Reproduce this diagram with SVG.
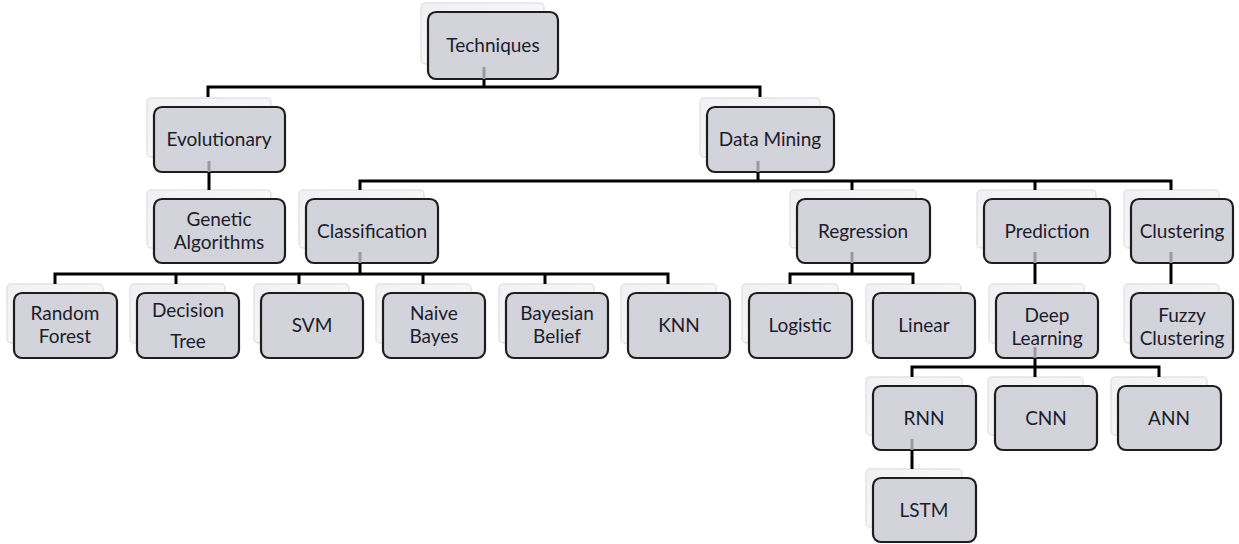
<svg xmlns="http://www.w3.org/2000/svg" width="1239" height="544" viewBox="0 0 1239 544">
<defs>
<linearGradient id="sh" x1="0" y1="0" x2="1" y2="1">
<stop offset="0" stop-color="#f1f1f3"/>
<stop offset="1" stop-color="#fbfbfc"/>
</linearGradient>
</defs>
<style>
.sh{fill:url(#sh);stroke:#e3e3e6;stroke-width:1.5}
.bx{fill:#d3d3dc;stroke:#1e1e1e;stroke-width:2.2}
.t{font-family:Lato,"Liberation Sans",sans-serif;font-size:19px;fill:#1c1c2a;text-anchor:middle}
.c{fill:none;stroke:#000;stroke-width:3}
.s{fill:none;stroke:#9a9aa2;stroke-width:3}
</style>
<rect width="1239" height="544" fill="#fff"/>
<g id="n-techniques"><rect class="sh" x="421" y="3" width="123" height="61" rx="4"/><rect class="bx" x="428" y="12" width="130" height="67" rx="8"/><text class="t" x="493" y="52">Techniques</text></g>
<g id="n-evolutionary"><rect class="sh" x="147" y="98" width="124" height="59" rx="4"/><rect class="bx" x="154" y="107" width="131" height="65" rx="8"/><text class="t" x="219" y="146">Evolutionary</text></g>
<g id="n-datamining"><rect class="sh" x="700" y="98" width="120" height="59" rx="4"/><rect class="bx" x="707" y="107" width="127" height="65" rx="8"/><text class="t" x="770" y="146">Data Mining</text></g>
<g id="n-genetic"><rect class="sh" x="147" y="190" width="124" height="58" rx="4"/><rect class="bx" x="154" y="199" width="131" height="64" rx="8"/><text class="t" x="219" y="226">Genetic</text><text class="t" x="219" y="249">Algorithms</text></g>
<g id="n-classification"><rect class="sh" x="299" y="190" width="125" height="58" rx="4"/><rect class="bx" x="306" y="199" width="132" height="64" rx="8"/><text class="t" x="372" y="238">Classification</text></g>
<g id="n-regression"><rect class="sh" x="790" y="190" width="126" height="58" rx="4"/><rect class="bx" x="797" y="199" width="133" height="64" rx="8"/><text class="t" x="863" y="238">Regression</text></g>
<g id="n-prediction"><rect class="sh" x="977" y="190" width="119" height="58" rx="4"/><rect class="bx" x="984" y="199" width="126" height="64" rx="8"/><text class="t" x="1047" y="238">Prediction</text></g>
<g id="n-clustering"><rect class="sh" x="1124" y="190" width="95" height="58" rx="4"/><rect class="bx" x="1131" y="199" width="102" height="64" rx="8"/><text class="t" x="1182" y="238">Clustering</text></g>
<g id="n-randomforest"><rect class="sh" x="7" y="284" width="96" height="59" rx="4"/><rect class="bx" x="14" y="293" width="103" height="65" rx="8"/><text class="t" x="65" y="320">Random</text><text class="t" x="65" y="343">Forest</text></g>
<g id="n-decisiontree"><rect class="sh" x="130" y="284" width="95" height="59" rx="4"/><rect class="bx" x="137" y="293" width="102" height="65" rx="8"/><text class="t" x="188" y="317">Decision</text><text class="t" x="188" y="348">Tree</text></g>
<g id="n-svm"><rect class="sh" x="254" y="284" width="95" height="59" rx="4"/><rect class="bx" x="261" y="293" width="102" height="65" rx="8"/><text class="t" x="312" y="332">SVM</text></g>
<g id="n-naivebayes"><rect class="sh" x="376" y="284" width="95" height="59" rx="4"/><rect class="bx" x="383" y="293" width="102" height="65" rx="8"/><text class="t" x="434" y="320">Naive</text><text class="t" x="434" y="343">Bayes</text></g>
<g id="n-bayesianbelief"><rect class="sh" x="499" y="284" width="95" height="59" rx="4"/><rect class="bx" x="506" y="293" width="102" height="65" rx="8"/><text class="t" x="557" y="320">Bayesian</text><text class="t" x="557" y="343">Belief</text></g>
<g id="n-knn"><rect class="sh" x="621" y="284" width="95" height="59" rx="4"/><rect class="bx" x="628" y="293" width="102" height="65" rx="8"/><text class="t" x="679" y="332">KNN</text></g>
<g id="n-logistic"><rect class="sh" x="742" y="284" width="96" height="59" rx="4"/><rect class="bx" x="749" y="293" width="103" height="65" rx="8"/><text class="t" x="800" y="332">Logistic</text></g>
<g id="n-linear"><rect class="sh" x="866" y="284" width="95" height="59" rx="4"/><rect class="bx" x="873" y="293" width="102" height="65" rx="8"/><text class="t" x="924" y="332">Linear</text></g>
<g id="n-deeplearning"><rect class="sh" x="989" y="284" width="95" height="59" rx="4"/><rect class="bx" x="996" y="293" width="102" height="65" rx="8"/><text class="t" x="1047" y="322">Deep</text><text class="t" x="1047" y="345">Learning</text></g>
<g id="n-fuzzyclustering"><rect class="sh" x="1124" y="284" width="95" height="59" rx="4"/><rect class="bx" x="1131" y="293" width="102" height="65" rx="8"/><text class="t" x="1182" y="322">Fuzzy</text><text class="t" x="1182" y="345">Clustering</text></g>
<g id="n-rnn"><rect class="sh" x="866" y="377" width="96" height="58" rx="4"/><rect class="bx" x="873" y="386" width="103" height="64" rx="8"/><text class="t" x="924" y="425">RNN</text></g>
<g id="n-cnn"><rect class="sh" x="988" y="377" width="95" height="58" rx="4"/><rect class="bx" x="995" y="386" width="102" height="64" rx="8"/><text class="t" x="1046" y="425">CNN</text></g>
<g id="n-ann"><rect class="sh" x="1111" y="377" width="96" height="58" rx="4"/><rect class="bx" x="1118" y="386" width="103" height="64" rx="8"/><text class="t" x="1169" y="425">ANN</text></g>
<g id="n-lstm"><rect class="sh" x="866" y="469" width="96" height="58" rx="4"/><rect class="bx" x="873" y="478" width="103" height="64" rx="8"/><text class="t" x="924" y="517">LSTM</text></g>
<g id="connectors">
<path class="s" d="M484,67V79 M209,161V172 M758,161V172 M360,252V263 M852,252V263 M1035,252V263 M1171,252V263 M1035,347V358 M912,439V450"/>
<path class="c" d="M484,79V87 M208,97V87H760V97"/>
<path class="c" d="M209,172V190"/>
<path class="c" d="M758,172V181 M360,190V181H1171V190 M852,181V190 M1035,181V190"/>
<path class="c" d="M360,263V274 M55,284V274H668V284 M176,274V284 M299,274V284 M423,274V284 M545,274V284"/>
<path class="c" d="M852,263V274 M790,284V274H913V284"/>
<path class="c" d="M1035,263V284"/>
<path class="c" d="M1171,263V284"/>
<path class="c" d="M1035,358V367 M912,377V367H1159V377 M1035,367V377"/>
<path class="c" d="M912,450V469"/>
</g>
</svg>
